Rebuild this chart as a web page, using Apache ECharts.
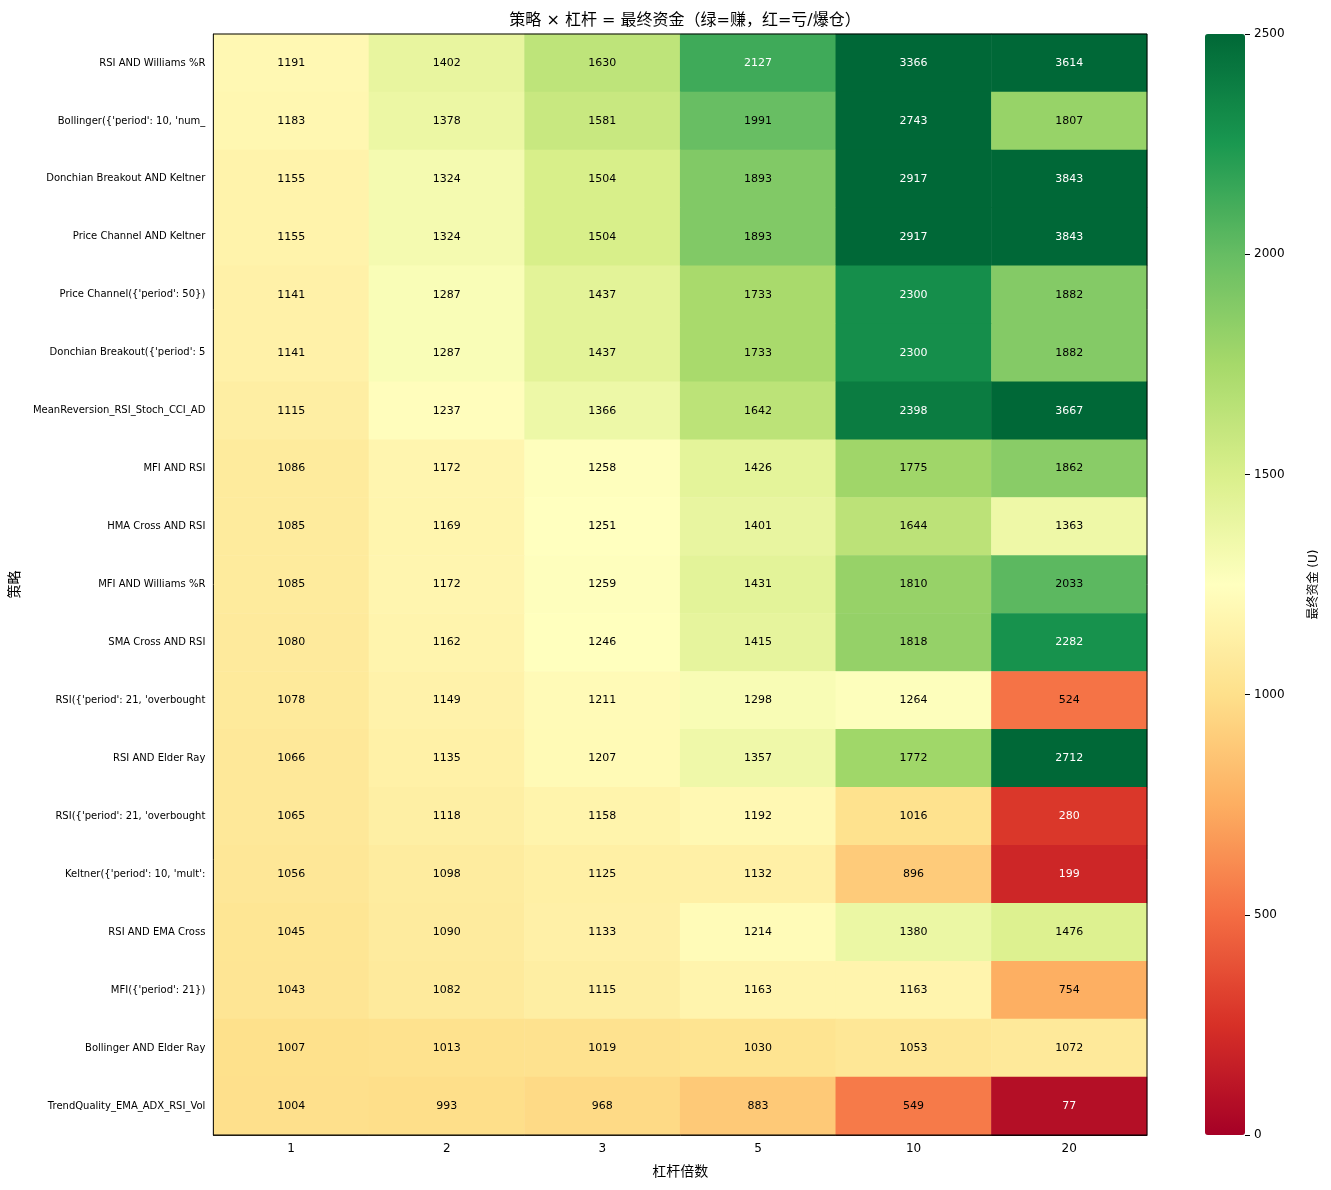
<html>
<head>
<meta charset="UTF-8">
<script src="https://cdn.jsdelivr.net/npm/echarts@6/dist/echarts.min.js"></script>
</head>
<body style="margin:0">
<div id="chart" style="width:1331px;height:1190px;"></div>
<script>
var leverages = ['1', '2', '3', '5', '10', '20'];
var strategies = [
    'RSI AND Williams %R',
    "Bollinger({'period': 10, 'num_",
    'Donchian Breakout AND Keltner',
    'Price Channel AND Keltner',
    "Price Channel({'period': 50})",
    "Donchian Breakout({'period': 5",
    'MeanReversion_RSI_Stoch_CCI_AD',
    'MFI AND RSI',
    'HMA Cross AND RSI',
    'MFI AND Williams %R',
    'SMA Cross AND RSI',
    "RSI({'period': 21, 'overbought",
    'RSI AND Elder Ray',
    "RSI({'period': 21, 'overbought",
    "Keltner({'period': 10, 'mult':",
    'RSI AND EMA Cross',
    "MFI({'period': 21})",
    'Bollinger AND Elder Ray',
    'TrendQuality_EMA_ADX_RSI_Vol'
];
var finalCapital = [
    [1191, 1402, 1630, 2127, 3366, 3614],
    [1183, 1378, 1581, 1991, 2743, 1807],
    [1155, 1324, 1504, 1893, 2917, 3843],
    [1155, 1324, 1504, 1893, 2917, 3843],
    [1141, 1287, 1437, 1733, 2300, 1882],
    [1141, 1287, 1437, 1733, 2300, 1882],
    [1115, 1237, 1366, 1642, 2398, 3667],
    [1086, 1172, 1258, 1426, 1775, 1862],
    [1085, 1169, 1251, 1401, 1644, 1363],
    [1085, 1172, 1259, 1431, 1810, 2033],
    [1080, 1162, 1246, 1415, 1818, 2282],
    [1078, 1149, 1211, 1298, 1264, 524],
    [1066, 1135, 1207, 1357, 1772, 2712],
    [1065, 1118, 1158, 1192, 1016, 280],
    [1056, 1098, 1125, 1132, 896, 199],
    [1045, 1090, 1133, 1214, 1380, 1476],
    [1043, 1082, 1115, 1163, 1163, 754],
    [1007, 1013, 1019, 1030, 1053, 1072],
    [1004, 993, 968, 883, 549, 77]
];
var colorbarTicks = [0, 500, 1000, 1500, 2000, 2500];

var cells = [];
for (var r = 0; r < strategies.length; r++) {
    for (var c = 0; c < leverages.length; c++) {
        var v = finalCapital[r][c];
        cells.push({
            value: [c, r, v],
            label: {color: (v > 2100 || v < 300) ? '#ffffff' : '#000000'}
        });
    }
}

var font = 'DejaVu Sans, "Noto Sans CJK SC", sans-serif';
var chart = echarts.init(document.getElementById('chart'));
chart.setOption({
    animation: false,
    textStyle: {fontFamily: font},
    title: {
        text: '策略 × 杠杆 = 最终资金（绿=赚，红=亏/爆仓）',
        left: 680, top: 8, textAlign: 'center',
        textStyle: {fontSize: 16, fontWeight: 'normal', color: '#000', fontFamily: font}
    },
    grid: [
        {left: 213, top: 34, width: 934, height: 1101, show: true, borderColor: '#000', borderWidth: 1, z: 10},
        {left: 1245, top: 34, width: 1, height: 1101}
    ],
    xAxis: [{
        type: 'category', data: leverages, gridIndex: 0,
        name: '杠杆倍数', nameLocation: 'middle', nameGap: 30,
        nameTextStyle: {fontSize: 14, color: '#000'},
        axisLine: {lineStyle: {color: '#000'}},
        axisTick: {alignWithLabel: true, lineStyle: {color: '#000'}},
        axisLabel: {fontSize: 12, color: '#000'},
        splitArea: {show: false}
    }, {
        type: 'value', gridIndex: 1, show: false, min: 0, max: 1
    }],
    yAxis: [{
        type: 'category', data: strategies, inverse: true, gridIndex: 0,
        name: '策略', nameLocation: 'middle', nameGap: 190,
        nameTextStyle: {fontSize: 14, color: '#000'},
        axisLine: {lineStyle: {color: '#000'}},
        axisTick: {alignWithLabel: true, lineStyle: {color: '#000'}},
        axisLabel: {fontSize: 10, color: '#000'}
    }, {
        type: 'value', gridIndex: 1, position: 'right',
        min: colorbarTicks[0], max: colorbarTicks[colorbarTicks.length - 1], interval: 500,
        name: '最终资金 (U)', nameLocation: 'middle', nameGap: 62, nameRotate: 90,
        nameTextStyle: {fontSize: 12, color: '#000'},
        axisLine: {show: false},
        axisTick: {show: true, length: 5, lineStyle: {color: '#000'}},
        axisLabel: {fontSize: 12, color: '#000', margin: 8, formatter: function (v) { return String(v); }},
        splitLine: {show: false}
    }],
    visualMap: {
        type: 'continuous', min: 0, max: 2500, seriesIndex: 0,
        left: 1205, top: 34, itemWidth: 40, itemHeight: 1101, padding: 0,
        calculable: false, text: null, showLabel: false, textGap: 0,
        inRange: {color: ['#a50026', '#d73027', '#f46d43', '#fdae61', '#fee08b', '#ffffbf',
            '#d9ef8b', '#a6d96a', '#66bd63', '#1a9850', '#006837']}
    },
    series: [{
        type: 'heatmap', xAxisIndex: 0, yAxisIndex: 0, data: cells,
        label: {show: true, fontSize: 11, formatter: function (p) { return p.value[2]; }}
    }]
});
</script>
</body>
</html>
